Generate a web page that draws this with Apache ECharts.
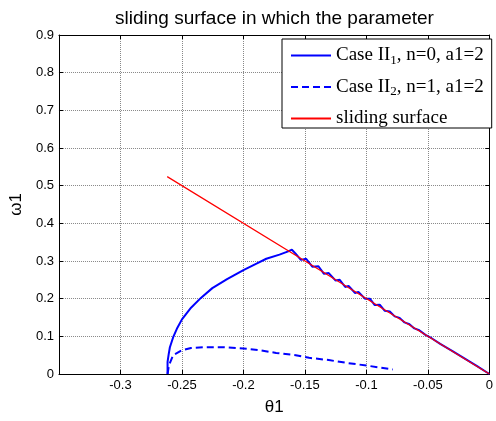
<!DOCTYPE html>
<html>
<head>
<meta charset="utf-8">
<script src="https://cdn.jsdelivr.net/npm/echarts@6/dist/echarts.min.js"></script>
<style>html,body{margin:0;padding:0;background:#fff;}#c{width:496px;height:421px;}</style>
</head>
<body>
<div id="c"></div>
<script>
const titleText = 'sliding surface in which the parameter';
const xName = 'θ1';
const yName = 'ω1';
const seriesNames = ['Case II1, n=0, a1=2', 'Case II2, n=1, a1=2', 'sliding surface'];

const thetaSolid = [-0.2617,-0.2617,-0.2608,-0.2598,-0.2572,-0.2537,-0.25,-0.2426,-0.2346,-0.2253,-0.2133,-0.2,-0.1894,-0.1814,-0.1707,-0.1641,-0.1606,-0.1574,-0.1533,-0.149,-0.144,-0.139,-0.1345,-0.1306,-0.125,-0.1217,-0.1172,-0.1145,-0.1092,-0.1065,-0.1012,-0.0972,-0.0932,-0.0892,-0.0852,-0.081,-0.077,-0.073,-0.069,-0.065,-0.061,-0.057,-0.052,-0.047,-0.04,-0.03,-0.02,-0.01,0];
const omegaSolid = [0,0.032,0.052,0.071,0.097,0.123,0.145,0.176,0.202,0.228,0.252,0.276,0.293,0.306,0.317,0.325,0.33,0.319,0.303,0.306,0.285,0.286,0.266,0.268,0.248,0.25,0.231,0.234,0.215,0.218,0.2,0.2,0.183,0.184,0.168,0.166,0.153,0.149,0.137,0.132,0.121,0.116,0.104,0.095,0.08,0.061,0.041,0.021,0];

const thetaDashed = [-0.2617,-0.2606,-0.2572,-0.25,-0.2426,-0.2319,-0.216,-0.2,-0.1867,-0.1734,-0.1574,-0.1466,-0.1306,-0.1172,-0.099,-0.0785];
const omegaDashed = [0,0.023,0.05,0.063,0.069,0.071,0.071,0.068,0.063,0.056,0.05,0.043,0.037,0.03,0.022,0.012];

const thetaSurface = [-0.262,-0.131,0];
const omegaSurface = [0.524,0.262,0];

const xMin = -0.35, xMax = 0, xStep = 0.05;
const yMin = 0, yMax = 0.9, yStep = 0.1;

function zip(a,b){return a.map((v,i)=>[v,b[i]]);}

const chart = echarts.init(document.getElementById('c'), null, {renderer:'canvas'});
const sans = 'Liberation Sans, Arial, sans-serif';
const serif = 'Liberation Serif, Times New Roman, serif';
const grid = {left:56, right:3, top:35, bottom:42};
function fmtNum(v){ if (v < -0.34) return ''; return String(Math.round(v*100)/100); }

chart.setOption({
  animation:false,
  backgroundColor:'#fff',
  title:{text:titleText, left:110, top:4, textStyle:{fontFamily:sans, fontSize:19, fontWeight:'normal', color:'#000'}},
  grid:grid,
  legend:{
    orient:'vertical', left:282, top:39,
    backgroundColor:'#fff', borderColor:'#000', borderWidth:1, borderRadius:0,
    padding:[7,8,0,8], itemGap:10.5, itemWidth:40, itemHeight:14,
    itemStyle:{opacity:0},
    data:seriesNames,
    formatter:function(n){
      if (n===seriesNames[0]) return '{b|Case II}{s|1}{b|, n=0, a1=2}';
      if (n===seriesNames[1]) return '{b|Case II}{s|2}{b|, n=1, a1=2}';
      return '{b|sliding surface}';
    },
    textStyle:{fontFamily:serif, fontSize:19, color:'#000',
      rich:{b:{fontFamily:serif, fontSize:19, color:'#000'}, s:{fontFamily:serif, fontSize:13, color:'#000', padding:[10,0,0,0]}}}
  },
  xAxis:[{
    type:'value', min:xMin, max:xMax, interval:xStep, position:'bottom',
    name:xName, nameLocation:'middle', nameGap:25, nameTextStyle:{fontFamily:sans, fontSize:17, color:'#000'},
    axisLine:{show:true, onZero:false, lineStyle:{color:'#000', width:1}},
    axisTick:{show:true, inside:true, length:4, lineStyle:{color:'#000'}},
    axisLabel:{formatter:fmtNum, fontFamily:sans, fontSize:13, color:'#000', margin:5, showMinLabel:true},
    splitLine:{show:true, lineStyle:{color:'#888', type:[1,1], width:1}}
  },{
    type:'value', min:xMin, max:xMax, interval:xStep, position:'top',
    axisLine:{show:true, onZero:false, lineStyle:{color:'#000', width:1}},
    axisTick:{show:true, inside:true, length:4, lineStyle:{color:'#000'}},
    axisLabel:{show:false}, splitLine:{show:false}
  }],
  yAxis:[{
    type:'value', min:yMin, max:yMax, interval:yStep, position:'left',
    name:yName, nameLocation:'middle', nameGap:22, nameTextStyle:{fontFamily:sans, fontSize:17, color:'#000'},
    axisLine:{show:true, onZero:false, lineStyle:{color:'#000', width:1}},
    axisTick:{show:true, inside:true, length:4, lineStyle:{color:'#000'}},
    axisLabel:{formatter:v=>String(Math.round(v*10)/10), fontFamily:sans, fontSize:13, color:'#000', margin:5},
    splitLine:{show:true, lineStyle:{color:'#888', type:[1,1], width:1}}
  },{
    type:'value', min:yMin, max:yMax, interval:yStep, position:'right',
    axisLine:{show:true, onZero:false, lineStyle:{color:'#000', width:1}},
    axisTick:{show:true, inside:true, length:4, lineStyle:{color:'#000'}},
    axisLabel:{show:false}, splitLine:{show:false}
  }],
  series:[
    {name:seriesNames[0], type:'line', data:zip(thetaSolid, omegaSolid), symbol:'none', smooth:false,
      lineStyle:{color:'#0000ff', width:2}, itemStyle:{color:'#0000ff'}},
    {name:seriesNames[1], type:'line', data:zip(thetaDashed, omegaDashed), symbol:'none',
      lineStyle:{color:'#0000ff', width:2, type:[7,4]}, itemStyle:{color:'#0000ff'}},
    {name:seriesNames[2], type:'line', data:zip(thetaSurface, omegaSurface), symbol:'none',
      lineStyle:{color:'#ff0000', width:1.2}, itemStyle:{color:'#ff0000'}}
  ]
});
</script>
</body>
</html>
